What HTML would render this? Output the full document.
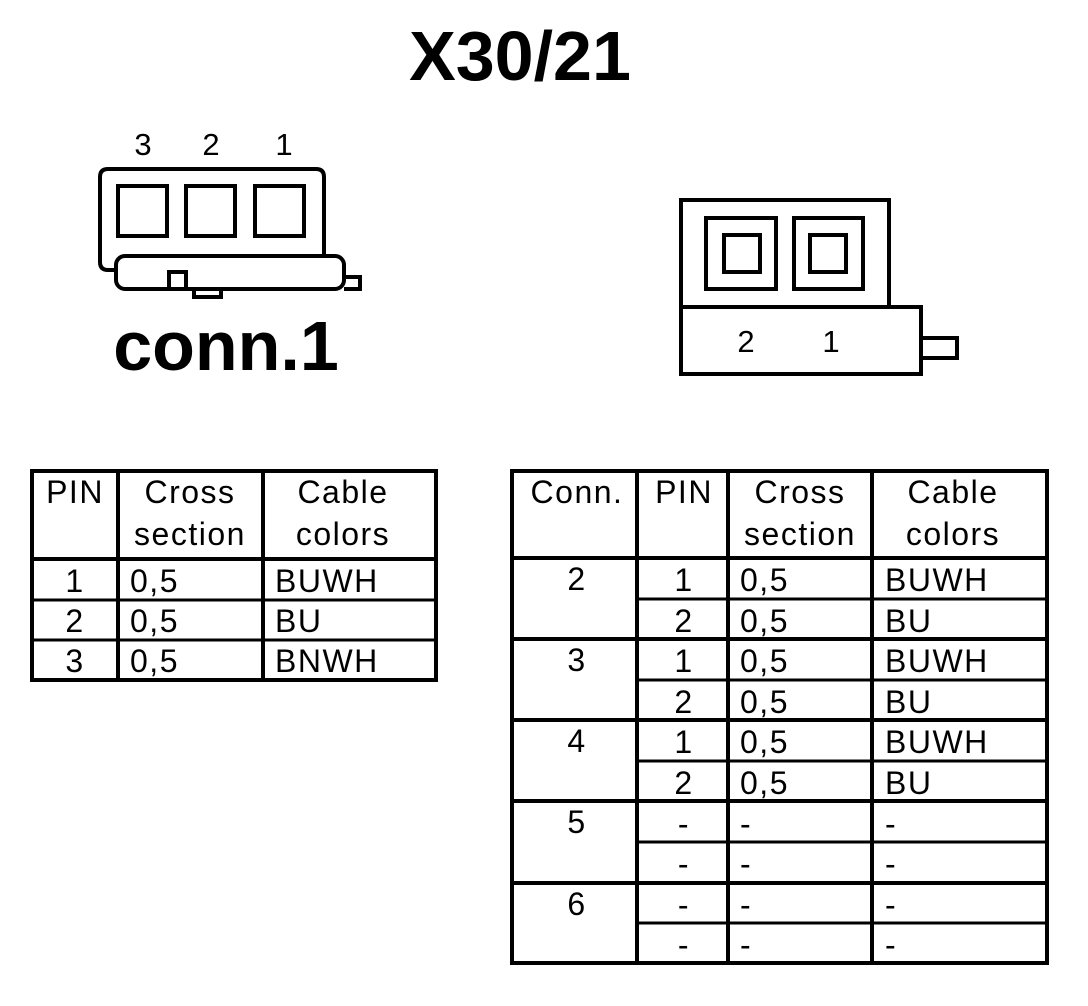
<!DOCTYPE html>
<html><head><meta charset="utf-8"><style>
html,body{margin:0;padding:0;background:#fff;}
svg{display:block;}
text{font-family:"Liberation Sans",Arial,sans-serif;fill:#000;}
.t text{font-size:32px;letter-spacing:1.5px;}
</style></head><body>
<svg width="1088" height="1006" viewBox="0 0 1088 1006" xmlns="http://www.w3.org/2000/svg">
<rect width="1088" height="1006" fill="#fff"/>
<text x="520" y="80" font-size="70" font-weight="bold" text-anchor="middle">X30/21</text>
<text x="226" y="370" font-size="70" font-weight="bold" text-anchor="middle">conn.1</text>

<g fill="none" stroke="#000" stroke-width="4">
<path d="M116,270 L108,270 Q100,270 100,262 L100,177 Q100,169 108,169 L316,169 Q324,169 324,177 L324,256"/>
<rect x="118" y="186" width="49" height="50"/>
<rect x="186" y="186" width="49" height="50"/>
<rect x="255" y="186" width="49" height="50"/>
<rect x="116" y="256" width="228" height="33" rx="9"/>
<path d="M169,289 L169,272 L186,272 L186,289"/>
<path d="M194,289 L194,297 L221,297 L221,289"/>
<path d="M344,277 L360,277 L360,289 L344,289"/>
</g>
<text x="143" y="155" font-size="31" text-anchor="middle">3</text>
<text x="211" y="155" font-size="31" text-anchor="middle">2</text>
<text x="284" y="155" font-size="31" text-anchor="middle">1</text>

<g fill="none" stroke="#000" stroke-width="4">
<path d="M681,307 L681,200 L889,200 L889,307"/>
<rect x="681" y="307" width="240" height="67"/>
<rect x="706" y="218" width="70" height="71"/>
<rect x="794" y="218" width="69" height="71"/>
<rect x="724" y="235" width="36" height="37"/>
<rect x="810" y="235" width="36" height="37"/>
<path d="M921,338 L957,338 L957,358 L921,358"/>
</g>
<text x="746" y="352" font-size="31" text-anchor="middle">2</text>
<text x="831" y="352" font-size="31" text-anchor="middle">1</text>

<g stroke="#000" fill="none">
<rect x="32" y="471" width="404" height="209" stroke-width="4"/>
<line x1="118" y1="471" x2="118" y2="680" stroke-width="4"/>
<line x1="263" y1="471" x2="263" y2="680" stroke-width="4"/>
<line x1="32" y1="559" x2="436" y2="559" stroke-width="4"/>
<line x1="32" y1="600" x2="436" y2="600" stroke-width="3"/>
<line x1="32" y1="640" x2="436" y2="640" stroke-width="3"/>
</g>
<g class="t">
<text x="75" y="503" text-anchor="middle">PIN</text>
<text x="190" y="503" text-anchor="middle">Cross</text>
<text x="190" y="545" text-anchor="middle">section</text>
<text x="343" y="503" text-anchor="middle">Cable</text>
<text x="343" y="545" text-anchor="middle">colors</text>
<text x="75" y="592" text-anchor="middle">1</text><text x="130" y="592">0,5</text><text x="275" y="592">BUWH</text>
<text x="75" y="632" text-anchor="middle">2</text><text x="130" y="632">0,5</text><text x="275" y="632">BU</text>
<text x="75" y="672" text-anchor="middle">3</text><text x="130" y="672">0,5</text><text x="275" y="672">BNWH</text>
</g>

<g stroke="#000" fill="none">
<rect x="512" y="471" width="535" height="492" stroke-width="4"/>
<line x1="637" y1="471" x2="637" y2="963" stroke-width="4"/>
<line x1="728" y1="471" x2="728" y2="963" stroke-width="4"/>
<line x1="872" y1="471" x2="872" y2="963" stroke-width="4"/>
<line x1="512" y1="558" x2="1047" y2="558" stroke-width="4"/>
<line x1="637" y1="599" x2="1047" y2="599" stroke-width="3"/>
<line x1="512" y1="639" x2="1047" y2="639" stroke-width="4"/>
<line x1="637" y1="680" x2="1047" y2="680" stroke-width="3"/>
<line x1="512" y1="720" x2="1047" y2="720" stroke-width="4"/>
<line x1="637" y1="761" x2="1047" y2="761" stroke-width="3"/>
<line x1="512" y1="801" x2="1047" y2="801" stroke-width="4"/>
<line x1="637" y1="842" x2="1047" y2="842" stroke-width="3"/>
<line x1="512" y1="883" x2="1047" y2="883" stroke-width="4"/>
<line x1="637" y1="923" x2="1047" y2="923" stroke-width="3"/>
</g>
<g class="t">
<text x="577" y="503" text-anchor="middle">Conn.</text>
<text x="684" y="503" text-anchor="middle">PIN</text>
<text x="800" y="503" text-anchor="middle">Cross</text>
<text x="800" y="545" text-anchor="middle">section</text>
<text x="953" y="503" text-anchor="middle">Cable</text>
<text x="953" y="545" text-anchor="middle">colors</text>

<text x="577" y="590" text-anchor="middle">2</text>
<text x="684" y="591" text-anchor="middle">1</text><text x="740" y="591">0,5</text><text x="885" y="591">BUWH</text>
<text x="684" y="632" text-anchor="middle">2</text><text x="740" y="632">0,5</text><text x="885" y="632">BU</text>
<text x="577" y="671" text-anchor="middle">3</text>
<text x="684" y="672" text-anchor="middle">1</text><text x="740" y="672">0,5</text><text x="885" y="672">BUWH</text>
<text x="684" y="713" text-anchor="middle">2</text><text x="740" y="713">0,5</text><text x="885" y="713">BU</text>
<text x="577" y="752" text-anchor="middle">4</text>
<text x="684" y="753" text-anchor="middle">1</text><text x="740" y="753">0,5</text><text x="885" y="753">BUWH</text>
<text x="684" y="794" text-anchor="middle">2</text><text x="740" y="794">0,5</text><text x="885" y="794">BU</text>
<text x="577" y="833" text-anchor="middle">5</text>
<text x="684" y="835" text-anchor="middle">-</text><text x="740" y="835">-</text><text x="885" y="835">-</text>
<text x="684" y="875" text-anchor="middle">-</text><text x="740" y="875">-</text><text x="885" y="875">-</text>
<text x="577" y="915" text-anchor="middle">6</text>
<text x="684" y="916" text-anchor="middle">-</text><text x="740" y="916">-</text><text x="885" y="916">-</text>
<text x="684" y="956" text-anchor="middle">-</text><text x="740" y="956">-</text><text x="885" y="956">-</text>
</g>
</svg>
</body></html>
